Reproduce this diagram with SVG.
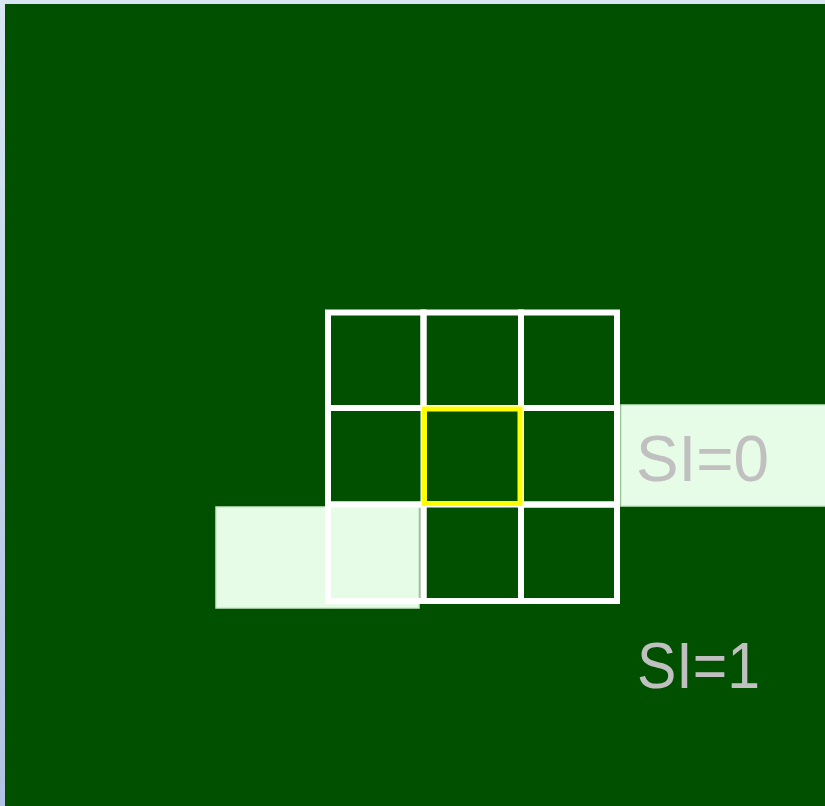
<svg xmlns="http://www.w3.org/2000/svg" width="825" height="806" viewBox="0 0 825 806">
<defs>
<linearGradient id="edge" x1="0" y1="0" x2="0" y2="1">
<stop offset="0" stop-color="#d8e6f2"/>
<stop offset="1" stop-color="#b2c2e2"/>
</linearGradient>
<style>
.cell{fill:none;stroke:#ffffff;stroke-width:6}
.hi{fill:none;stroke:#ffff00;stroke-width:5}
.pane{fill:#e6fce6;stroke:#c8eac8;stroke-width:1.5}
.lbl{font-family:"Liberation Sans",Arial,sans-serif;font-size:65px;fill:#c0c0c0}
</style>
</defs>
<rect x="0" y="0" width="825" height="806" fill="url(#edge)"/>
<rect x="5" y="4" width="820" height="802" fill="#005000"/>
<g id="pane-left"><rect class="pane" x="216" y="507" width="203" height="101"/></g>
<g id="pane-right"><rect class="pane" x="621" y="405" width="206" height="101"/></g>
<g id="grid">
<rect class="cell" x="328" y="312.5" width="95.5" height="95.5"/>
<rect class="cell" x="423.5" y="312.5" width="97.5" height="95.5"/>
<rect class="cell" x="521" y="312.5" width="96" height="95.5"/>
<rect class="cell" x="328" y="408" width="95.5" height="96.5"/>
<rect class="cell" x="521" y="408" width="96" height="96.5"/>
<rect class="cell" x="328" y="504.5" width="95.5" height="96.5"/>
<rect class="cell" x="423.5" y="504.5" width="97.5" height="96.5"/>
<rect class="cell" x="521" y="504.5" width="96" height="96.5"/>
</g>
<g id="center"><rect class="hi" x="424.5" y="409" width="95.5" height="94.5"/></g>
<g id="label-si0"><text class="lbl" x="636" y="481" textLength="133" lengthAdjust="spacingAndGlyphs">SI=0</text></g>
<g id="label-si1"><text class="lbl" x="637" y="688" textLength="123" lengthAdjust="spacingAndGlyphs">SI=1</text></g>
</svg>
